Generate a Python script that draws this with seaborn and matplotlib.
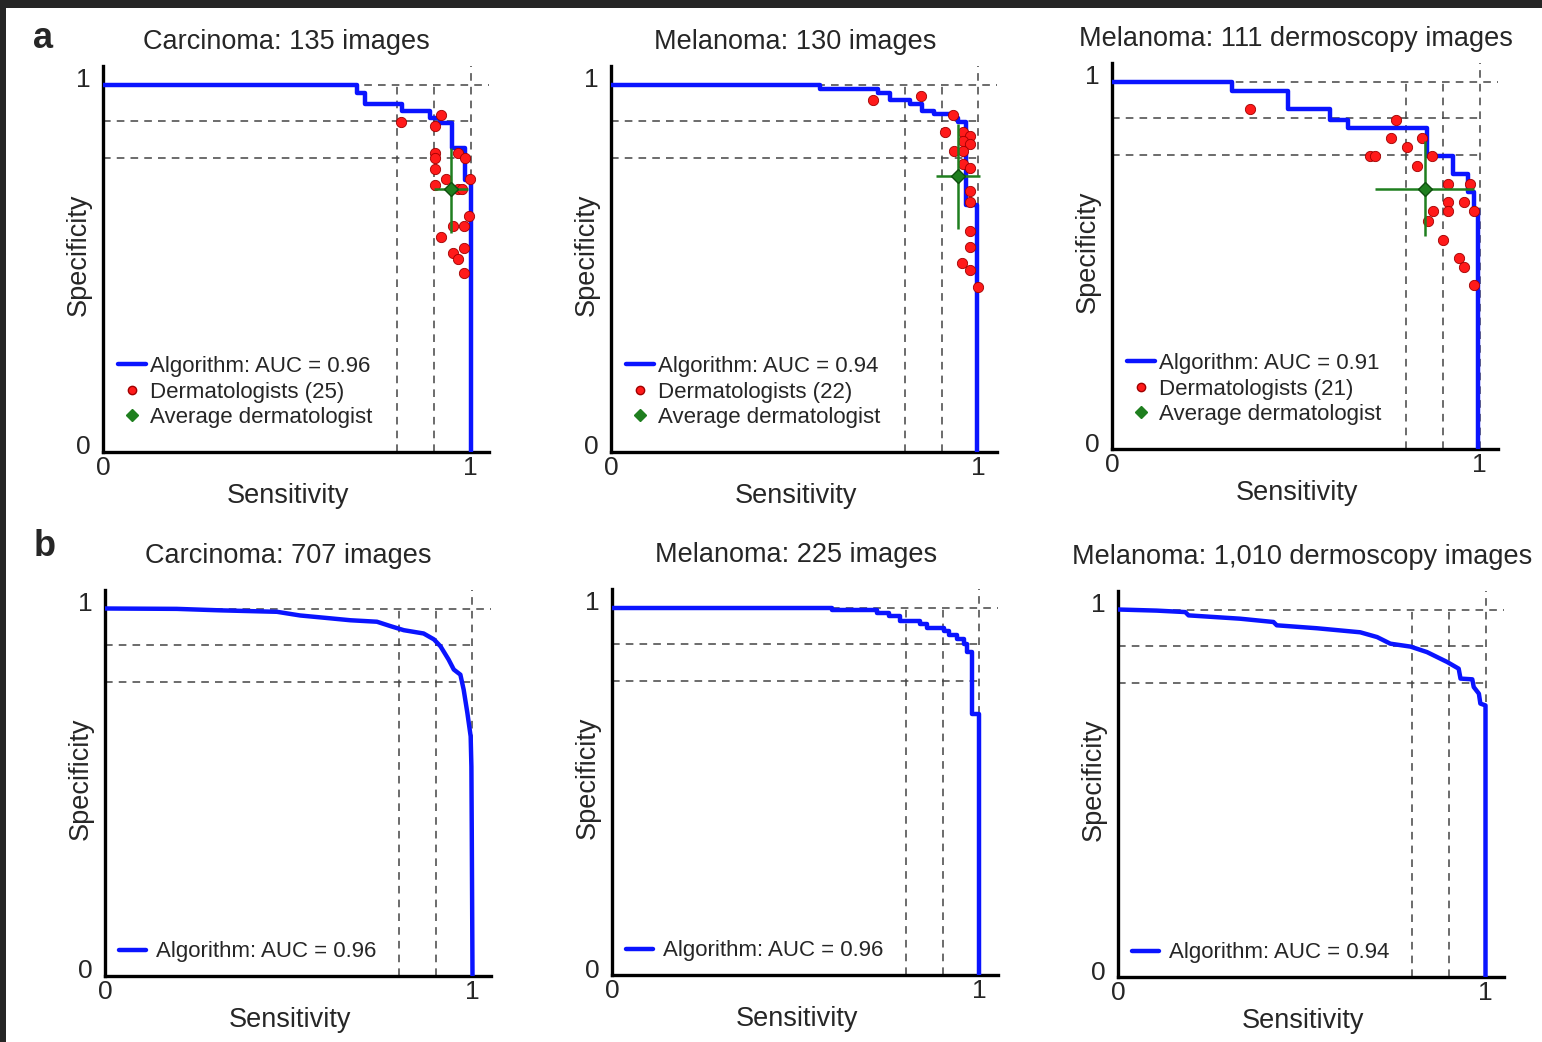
import matplotlib
matplotlib.use("Agg")
import matplotlib.pyplot as plt
import matplotlib.transforms as mtrans
from matplotlib.lines import Line2D
from matplotlib.patches import Rectangle
import seaborn as sns

sns.set_style("white")
plt.rcParams["font.family"] = ["Liberation Sans", "DejaVu Sans"]

# panel titles / AUC values
titles = ["Carcinoma: 135 images", "Melanoma: 130 images", "Melanoma: 111 dermoscopy images",
          "Carcinoma: 707 images", "Melanoma: 225 images", "Melanoma: 1,010 dermoscopy images"]
auc = [0.96, 0.94, 0.91, 0.96, 0.96, 0.94]
n_derm = [25, 22, 21]

# algorithm ROC curves (sensitivity, specificity)
a1_sens = [0.0, 0.69, 0.712, 0.8125, 0.889, 0.916, 0.951, 0.984, 1.0]
a1_spec = [1.0, 0.976, 0.946, 0.929, 0.910, 0.894, 0.826, 0.739, 0.0]
a2_sens = [0.0, 0.568, 0.726, 0.758, 0.8125, 0.845, 0.880, 0.929, 0.943, 0.967, 0.997]
a2_spec = [1.0, 0.989, 0.976, 0.957, 0.948, 0.929, 0.921, 0.908, 0.897, 0.671, 0.0]
a3_sens = [0.0, 0.327, 0.480, 0.594, 0.643, 0.858, 0.929, 0.970, 0.986, 0.997]
a3_spec = [1.0, 0.975, 0.924, 0.896, 0.874, 0.796, 0.747, 0.698, 0.651, 0.0]
b1_sens = [0.0, 0.195, 0.313, 0.468, 0.531, 0.595, 0.668, 0.740, 0.777, 0.813, 0.867, 0.895,
           0.913, 0.935, 0.949, 0.967, 0.976, 0.986, 0.995, 0.997, 0.998, 1.0]
b1_spec = [1.0, 0.999, 0.995, 0.991, 0.981, 0.975, 0.968, 0.964, 0.952, 0.941, 0.932, 0.916,
           0.897, 0.861, 0.834, 0.820, 0.779, 0.716, 0.652, 0.570, 0.398, 0.0]
b2_sens = [0.0, 0.599, 0.721, 0.753, 0.785, 0.839, 0.857, 0.903, 0.916, 0.939, 0.957, 0.966, 0.980, 0.998]
b2_spec = [1.0, 0.994, 0.985, 0.978, 0.963, 0.956, 0.945, 0.936, 0.924, 0.915, 0.901, 0.879, 0.711, 0.0]
b3_sens = [0.0, 0.105, 0.183, 0.192, 0.332, 0.423, 0.432, 0.541, 0.659, 0.705, 0.741, 0.796, 0.841,
           0.896, 0.927, 0.932, 0.964, 0.968, 0.982, 0.986, 1.0, 1.0]
b3_spec = [1.0, 0.997, 0.993, 0.984, 0.975, 0.966, 0.957, 0.949, 0.938, 0.925, 0.907, 0.899, 0.884,
           0.857, 0.839, 0.812, 0.810, 0.789, 0.771, 0.744, 0.739, 0.0]

# dermatologists
d1_sens = [0.920, 0.812, 0.904, 0.904, 0.904, 0.904, 0.966, 0.984, 0.934, 0.999, 0.904,
           0.965, 0.978, 0.997, 0.952, 0.982, 0.920, 0.982, 0.952, 0.966, 0.982]
d1_spec = [0.916, 0.899, 0.886, 0.813, 0.800, 0.771, 0.813, 0.801, 0.744, 0.744, 0.727,
           0.715, 0.715, 0.642, 0.615, 0.615, 0.585, 0.556, 0.542, 0.526, 0.486]
d2_sens = [0.713, 0.844, 0.930, 0.910, 0.957, 0.977, 0.957, 0.977, 0.932, 0.957, 0.957,
           0.977, 0.977, 0.977, 0.976, 0.976, 0.955, 0.976, 0.998]
d2_spec = [0.957, 0.968, 0.916, 0.872, 0.872, 0.859, 0.845, 0.839, 0.818, 0.818, 0.785,
           0.774, 0.709, 0.680, 0.601, 0.558, 0.515, 0.495, 0.449]
d3_sens = [0.376, 0.774, 0.759, 0.844, 0.803, 0.871, 0.703, 0.717, 0.830, 0.914, 0.974,
           0.914, 0.957, 0.873, 0.914, 0.984, 0.859, 0.901, 0.944, 0.957, 0.984]
d3_spec = [0.924, 0.896, 0.847, 0.847, 0.822, 0.796, 0.796, 0.796, 0.771, 0.722, 0.722,
           0.671, 0.671, 0.647, 0.647, 0.647, 0.621, 0.569, 0.521, 0.495, 0.447]

# average dermatologist: sens, spec, sens range, spec range
avg_sens = [0.946, 0.944, 0.851]
avg_spec = [0.715, 0.751, 0.708]
avg_sens_rng = [(0.902, 0.992), (0.885, 1.005), (0.717, 0.984)]
avg_spec_rng = [(0.595, 0.826), (0.608, 0.893), (0.580, 0.837)]

curves = [(a1_sens, a1_spec), (a2_sens, a2_spec), (a3_sens, a3_spec),
          (b1_sens, b1_spec), (b2_sens, b2_spec), (b3_sens, b3_spec)]
derms = [(d1_sens, d1_spec), (d2_sens, d2_spec), (d3_sens, d3_spec)]
stepped = [True, True, True, False, True, False]

# panel origins in pixels (x of sens=0, y of spec=0)
origins = [(103, 452), (611, 452), (1112, 449), (105, 976), (612, 975), (1118, 977)]
W, H = 1542, 1042
unit = 367.5

blue = "#0a14ff"
red = "#ff1a1a"
green = "#1f7f1f"

fig = plt.figure(figsize=(W / 100, H / 100), dpi=100)
fig.patch.set_facecolor("#262626")
fig.add_artist(Rectangle((6 / W, 0), 1, 1 - 8 / H, transform=fig.transFigure,
                         facecolor="white", edgecolor="none", zorder=-5))

for i in range(6):
    x0, y0 = origins[i]
    ax = fig.add_axes([x0 / W, 1 - y0 / H, 1.05 * unit / W, 1.05 * unit / H])
    ax.set_facecolor("none")
    ax.set_xlim(0, 1.05)
    ax.set_ylim(0, 1.05)

    # reference grid at 0.8 / 0.9 / 1
    dash = dict(color="#444444", lw=1.1, ls=(0, (5, 4)), zorder=1)
    for v in [0.8, 0.9]:
        ax.plot([0, 1], [v, v], **dash)
        ax.plot([v, v], [0, 1], **dash)
    ax.plot([0, 1.05], [1, 1], **dash)
    ax.plot([1, 1], [0, 1.05], **dash)

    s, p = curves[i]
    sns.lineplot(x=s, y=p, ax=ax, color=blue, lw=3.2, sort=False, estimator=None,
                 drawstyle="steps-post" if stepped[i] else "default", zorder=3)

    if i < 3:
        ds, dp = derms[i]
        sns.scatterplot(x=ds, y=dp, ax=ax, color=red, s=55, edgecolor="#a00000",
                        linewidth=0.6, zorder=4)
        ax.errorbar(avg_sens[i], avg_spec[i],
                    xerr=[[avg_sens[i] - avg_sens_rng[i][0]], [avg_sens_rng[i][1] - avg_sens[i]]],
                    yerr=[[avg_spec[i] - avg_spec_rng[i][0]], [avg_spec_rng[i][1] - avg_spec[i]]],
                    fmt="D", color=green, ms=7, mec="#0f4f0f", elinewidth=1.8, capsize=0, zorder=5)
        handles = [Line2D([], [], color=blue, lw=3.2),
                   Line2D([], [], color=red, marker="o", ls="none", ms=6, mec="#a00000"),
                   Line2D([], [], color=green, marker="D", ls="none", ms=6)]
        labels = [f"Algorithm: AUC = {auc[i]:.2f}", f"Dermatologists ({n_derm[i]})",
                  "Average dermatologist"]
        ax.legend(handles, labels, loc="lower left", bbox_to_anchor=(0.04, 0.062),
                  frameon=False, fontsize=16, handlelength=1.25, handletextpad=0.15,
                  labelspacing=0.2, borderpad=0, borderaxespad=0)
        title_y = 1.062
    else:
        handles = [Line2D([], [], color=blue, lw=3.2)]
        labels = [f"Algorithm: AUC = {auc[i]:.2f}"]
        ax.legend(handles, labels, loc="lower left", bbox_to_anchor=(0.035, 0.035),
                  frameon=False, fontsize=16, handlelength=1.25, handletextpad=0.45,
                  borderpad=0, borderaxespad=0)
        title_y = 1.088

    ax.text(0.5, title_y, titles[i], fontsize=19.5, ha="center", va="center",
            transform=mtrans.blended_transform_factory(ax.transData, ax.transAxes))

    sns.despine(ax=ax)
    for side in ["left", "bottom"]:
        ax.spines[side].set_color("black")
        ax.spines[side].set_linewidth(2.4)
    ax.set_xticks([0, 1])
    ax.set_xticklabels(["0", "1"])
    ax.set_yticks([0, 1])
    ax.set_yticklabels(["0", "1"])
    ax.tick_params(axis="x", length=0, pad=3, labelsize=19)
    ax.tick_params(axis="y", length=0, pad=9, labelsize=19)
    shift = mtrans.ScaledTranslation(0, 7 / 100, fig.dpi_scale_trans)
    for lab in ax.get_yticklabels():
        lab.set_transform(lab.get_transform() + shift)

    ax.set_xlabel("Sensitivity", fontsize=19.5)
    ax.set_ylabel("Specificity", fontsize=19.5)
    ax.xaxis.set_label_coords(0.48, -0.08)
    ax.yaxis.set_label_coords(-0.03, 0.51)

fig.text(43 / W, 1 - 38 / H, "a", fontsize=26, fontweight="bold", ha="center", va="center")
fig.text(45 / W, 1 - 546 / H, "b", fontsize=26, fontweight="bold", ha="center", va="center")

fig.savefig("out.png", dpi=100, facecolor=fig.get_facecolor())
